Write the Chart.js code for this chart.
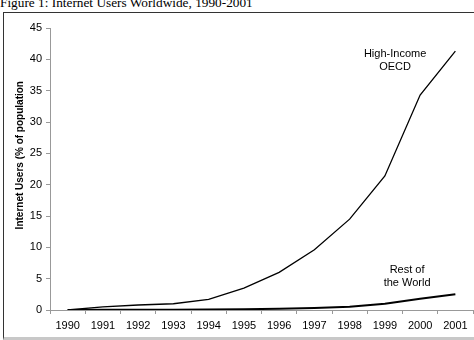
<!DOCTYPE html>
<html>
<head>
<meta charset="utf-8">
<script src="https://cdn.jsdelivr.net/npm/chart.js@4"></script>
<style>
  html, body { margin: 0; padding: 0; background: #fff; }
  #wrap { position: relative; width: 474px; height: 340px; overflow: hidden; }
  #caption {
    position: absolute; left: 0; top: -5px;
    font-family: "Liberation Serif", "Times New Roman", serif;
    font-size: 13.3px; color: #000; white-space: nowrap;
  }
  #frame {
    position: absolute; left: 3px; top: 12px; width: 480px; height: 324px;
    border-left: 1px solid #333; border-top: 1px solid #333;
    border-bottom: 3px solid #c8c8c8;
  }
  #chartBox { position: absolute; left: 0; top: 0; width: 474px; height: 340px; }
</style>
</head>
<body>
<div id="wrap">
  <div id="caption">Figure 1: Internet Users Worldwide, 1990-2001</div>
  <div id="frame"></div>
  <div id="chartBox"><canvas id="c" width="474" height="340"></canvas></div>
</div>
<script>
// Years on the horizontal axis
const years = ['1990','1991','1992','1993','1994','1995','1996','1997','1998','1999','2000','2001'];
// Internet users, % of population
const highIncomeOECD = [0, 0.5, 0.8, 1.0, 1.7, 3.5, 6.0, 9.6, 14.5, 21.4, 34.3, 41.3];
const restOfWorld    = [0, 0.02, 0.03, 0.05, 0.08, 0.12, 0.2, 0.3, 0.5, 1.0, 1.8, 2.5];
// Value axis ticks
const yTicks = [0, 5, 10, 15, 20, 25, 30, 35, 40, 45];
const yTitle = 'Internet Users (% of population';

// Labels written next to each curve: [text lines, year index, value]
const seriesNotes = [
  { lines: ['High-Income', 'OECD'], at: 9.29, value: 40.8 },
  { lines: ['Rest of', 'the World'], at: 9.63, value: 6.4 }
];

const FONT = '"Liberation Sans", Arial, sans-serif';

const notesPlugin = {
  id: 'notes',
  afterDatasetsDraw(chart) {
    const { ctx, scales: { x, y } } = chart;
    ctx.save();
    ctx.fillStyle = '#000';
    ctx.font = '11px ' + FONT;
    ctx.textAlign = 'center';
    ctx.textBaseline = 'middle';
    seriesNotes.forEach(n => {
      const px = x.getPixelForValue(n.at);
      const py = y.getPixelForValue(n.value);
      n.lines.forEach((t, i) => ctx.fillText(t, px, py + i * 13));
    });
    // vertical axis title, set a little above the axis middle
    ctx.translate(20, y.getPixelForValue(24.7));
    ctx.rotate(-Math.PI / 2);
    ctx.font = 'bold 10px ' + FONT;
    ctx.fillText(yTitle, 0, 0);
    ctx.restore();
  }
};

new Chart(document.getElementById('c'), {
  type: 'line',
  data: {
    labels: years,
    datasets: [
      { label: 'High-Income OECD', data: highIncomeOECD, borderColor: '#000', borderWidth: 1.3, pointRadius: 0, tension: 0, fill: false },
      { label: 'Rest of the World', data: restOfWorld, borderColor: '#000', borderWidth: 2, pointRadius: 0, tension: 0, fill: false }
    ]
  },
  options: {
    responsive: false,
    animation: false,
    layout: { padding: { left: 0, top: 28, right: 1, bottom: 0 } },
    plugins: { legend: { display: false }, tooltip: { enabled: false }, title: { display: false } },
    scales: {
      x: {
        offset: true,
        grid: { offset: true, drawOnChartArea: false, drawTicks: true, tickLength: 4, color: '#999' },
        border: { color: '#999', width: 1 },
        ticks: { color: '#000', padding: 5, maxRotation: 0, autoSkip: false,
                 font: { family: FONT, size: 11 } },
        afterFit(s) { s.height = 30; }
      },
      y: {
        min: 0, max: 45,
        afterBuildTicks(s) { s.ticks = yTicks.map(v => ({ value: v })); },
        grid: { drawOnChartArea: false, drawTicks: true, tickLength: 4, color: '#999' },
        border: { color: '#999', width: 1 },
        ticks: { color: '#000', padding: 4, font: { family: FONT, size: 11 } },
        afterFit(s) { s.width = 50; }
      }
    }
  },
  plugins: [notesPlugin]
});
</script>
</body>
</html>
